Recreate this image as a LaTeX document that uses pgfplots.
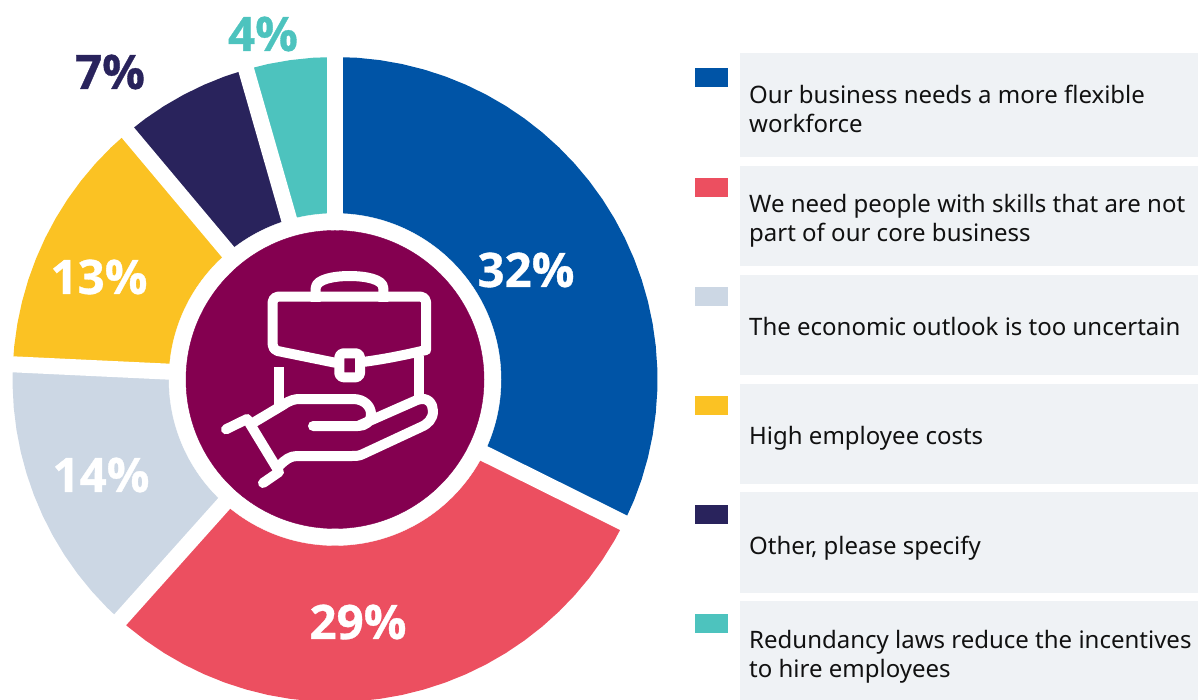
\documentclass[border=0pt]{standalone}
\usepackage{pgfplots}
\pgfplotsset{compat=1.18}
\usepackage{fontspec}
\setmainfont{Noto Sans}
\newfontfamily\labfont[BoldFeatures={FakeBold=0.7}]{Open Sans}
\definecolor{cblue}{HTML}{0054A6}
\definecolor{cred}{HTML}{EC4F60}
\definecolor{cgrey}{HTML}{CCD7E4}
\definecolor{cyellow}{HTML}{FBC223}
\definecolor{cnavy}{HTML}{29235C}
\definecolor{cteal}{HTML}{4DC3BE}
\definecolor{cplum}{HTML}{840050}
\definecolor{cbox}{HTML}{EFF2F5}
\definecolor{ctext}{HTML}{111111}
\pgfplotsset{base/.style={x=1pt,y=1pt,scale only axis,hide axis,no markers}}
\begin{document}
\begin{tikzpicture}
% ---- donut, origin at its centre, polar data (angle, radius)
\begin{axis}[base,at={(0pt,0pt)},anchor=south west,xmin=-335,xmax=863,ymin=-320.5,ymax=379.5]
% 32 %
\addplot[data cs=polar,fill=cblue,draw=none] coordinates {(0,0)(90,322.5)(86,322.5)(82,322.5)(78,322.5)(74,322.5)(70,322.5)(66,322.5)(62,322.5)(58,322.5)(54,322.5)(50,322.5)(46,322.5)(42,322.5)(38,322.5)(34,322.5)(30,322.5)(26,322.5)(22,322.5)(18,322.5)(14,322.5)(10,322.5)(6,322.5)(2,322.5)(-2,322.5)(-6,322.5)(-10,322.5)(-14,322.5)(-18,322.5)(-22,322.5)(-26.4,322.5)} --cycle;
% 29 %
\addplot[data cs=polar,fill=cred,draw=none] coordinates {(0,0)(-26.4,322.5)(-30,322.5)(-34,322.5)(-38,322.5)(-42,322.5)(-46,322.5)(-50,322.5)(-54,322.5)(-58,322.5)(-62,322.5)(-66,322.5)(-70,322.5)(-74,322.5)(-78,322.5)(-82,322.5)(-86,322.5)(-90,322.5)(-94,322.5)(-98,322.5)(-102,322.5)(-106,322.5)(-110,322.5)(-114,322.5)(-118,322.5)(-122,322.5)(-126,322.5)(-130,322.5)(-131.8,322.5)} --cycle;
% 14 %
\addplot[data cs=polar,fill=cgrey,draw=none] coordinates {(0,0)(-131.8,322.5)(-135,322.5)(-139,322.5)(-143,322.5)(-147,322.5)(-151,322.5)(-155,322.5)(-159,322.5)(-163,322.5)(-167,322.5)(-171,322.5)(-175,322.5)(-179,322.5)(-182.7,322.5)} --cycle;
% 13 %
\addplot[data cs=polar,fill=cyellow,draw=none] coordinates {(0,0)(-182.7,322.5)(-186,322.5)(-190,322.5)(-194,322.5)(-198,322.5)(-202,322.5)(-206,322.5)(-210,322.5)(-214,322.5)(-218,322.5)(-222,322.5)(-226,322.5)(-230,322.5)} --cycle;
% 7 %
\addplot[data cs=polar,fill=cnavy,draw=none] coordinates {(0,0)(-230,322.5)(-234,322.5)(-238,322.5)(-242,322.5)(-246,322.5)(-250,322.5)(-254,322.5)} --cycle;
% 4 %
\addplot[data cs=polar,fill=cteal,draw=none] coordinates {(0,0)(-254,322.5)(-258,322.5)(-262,322.5)(-266,322.5)(-270,322.5)} --cycle;
% white gaps between the sectors
\addplot[data cs=polar,white,line width=16pt] coordinates {(90,0)(90,340)};
\addplot[data cs=polar,white,line width=16pt] coordinates {(-26.4,0)(-26.4,340)};
\addplot[data cs=polar,white,line width=16pt] coordinates {(-131.8,0)(-131.8,340)};
\addplot[data cs=polar,white,line width=16pt] coordinates {(-182.7,0)(-182.7,340)};
\addplot[data cs=polar,white,line width=16pt] coordinates {(-230,0)(-230,340)};
\addplot[data cs=polar,white,line width=16pt] coordinates {(-254,0)(-254,340)};
% hole and central disc
\addplot[only marks,mark=*,mark size=166pt,color=white] coordinates {(0,0)};
\addplot[only marks,mark=*,mark size=149pt,color=cplum] coordinates {(0,0)};
\end{axis}
% ---- legend, icon and labels, in picture pixel coordinates
\begin{axis}[base,at={(0pt,0pt)},anchor=south west,xmin=0,xmax=1198,ymin=0,ymax=700,y dir=reverse]
\addplot[fill=cbox,draw=none] coordinates {(740,53)(1198,53)(1198,157)(740,157)} --cycle;
\addplot[fill=cbox,draw=none] coordinates {(740,166)(1198,166)(1198,266)(740,266)} --cycle;
\addplot[fill=cbox,draw=none] coordinates {(740,275)(1198,275)(1198,375)(740,375)} --cycle;
\addplot[fill=cbox,draw=none] coordinates {(740,384)(1198,384)(1198,484)(740,484)} --cycle;
\addplot[fill=cbox,draw=none] coordinates {(740,492)(1198,492)(1198,593)(740,593)} --cycle;
\addplot[fill=cbox,draw=none] coordinates {(740,601)(1198,601)(1198,700)(740,700)} --cycle;
\addplot[fill=cblue,draw=none] coordinates {(695,68)(728,68)(728,87)(695,87)} --cycle;
\addplot[fill=cred,draw=none] coordinates {(695,178)(728,178)(728,197)(695,197)} --cycle;
\addplot[fill=cgrey,draw=none] coordinates {(695,287)(728,287)(728,306)(695,306)} --cycle;
\addplot[fill=cyellow,draw=none] coordinates {(695,396)(728,396)(728,415)(695,415)} --cycle;
\addplot[fill=cnavy,draw=none] coordinates {(695,505)(728,505)(728,524)(695,524)} --cycle;
\addplot[fill=cteal,draw=none] coordinates {(695,614)(728,614)(728,633)(695,633)} --cycle;
\tikzset{lg/.style={anchor=base west,inner sep=0pt,text=ctext,font=\fontsize{24}{29}\selectfont},
 pc/.style={anchor=center,inner sep=0pt,font=\labfont\bfseries\fontsize{47.5}{48}\selectfont}}
\node[lg] at (749,104) {Our business needs a more flexible};
\node[lg] at (749,133) {workforce};
\node[lg] at (749,213) {We need people with skills that are not};
\node[lg] at (749,242) {part of our core business};
\node[lg] at (749,335) {The economic outlook is too uncertain};
\node[lg] at (749,444) {High employee costs};
\node[lg] at (749,554) {Other, please specify};
\node[lg] at (749,648) {Redundancy laws reduce the incentives};
\node[lg] at (749,677) {to hire employees};
\node[pc,text=white] at (526,270) {32\%};
\node[pc,text=white] at (358,622) {29\%};
\node[pc,text=white] at (101,475) {14\%};
\node[pc,text=white] at (99,277) {13\%};
\node[pc,text=cnavy] at (110,72) {7\%};
\node[pc,text=cteal] at (263,34) {4\%};
% icon
\tikzset{ic/.style={draw=white,line width=10pt,line cap=round,line join=round}}
\draw[ic,rounded corners=5pt] (335,362.7) -- (272.7,350) -- (272.7,296.7) -- (426,296.7) -- (426,350);
\draw[ic] (426,350) .. controls (405,355) and (385,359) .. (365,361.7);
\draw[ic,rounded corners=4pt] (339.3,353.3) rectangle (360,377.3);
\draw[ic,line cap=butt] (315.7,302) -- (315.7,288) .. controls (316,279) and (335,276) .. (349,276) .. controls (365,276) and (383,279) .. (383.3,288) -- (383.3,302);
\draw[ic,line cap=butt] (279.3,367) -- (279.3,410);
\draw[ic,line cap=butt] (419.3,356) -- (419.3,398);
\draw[ic] (255,421.7) -- (283,405) .. controls (290,400) and (295,399) .. (300,399) -- (353,399) .. controls (365,399) and (371,407) .. (371,414) .. controls (371,422) and (365,426) .. (358,426) -- (313,426);
\draw[ic] (358,426) -- (417,400) .. controls (428,396) and (433,404) .. (433,411) .. controls (433,419) and (428,424) .. (421,427) -- (363,454) .. controls (359,456) and (356,456) .. (352,456) -- (297,456) .. controls (290,456) and (285,460) .. (280,465);
\draw[ic] (226,429.3) -- (247,419) -- (278,470) ;
\draw[ic] (263,483) -- (279,472);
\end{axis}
\pgfresetboundingbox
\path[use as bounding box] (0pt,0pt) rectangle (1198pt,700pt);
\end{tikzpicture}
\end{document}
